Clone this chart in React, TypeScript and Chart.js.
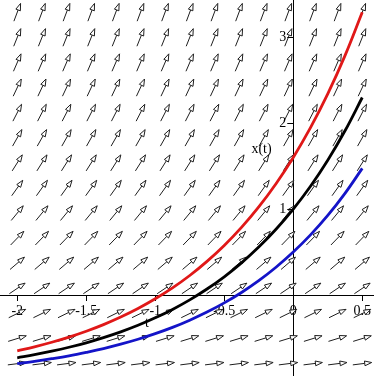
import React, { useEffect, useRef } from "react";
import { Chart, registerables } from "chart.js";

Chart.register(...registerables);

// solution curves x(t)
const tValues = [-2, -1.875, -1.75, -1.625, -1.5, -1.375, -1.25, -1.125, -1, -0.875, -0.75, -0.625, -0.5, -0.375, -0.25, -0.125, 0, 0.125, 0.25, 0.375, 0.5];
const redCurve = [-0.648, -0.601, -0.548, -0.488, -0.420, -0.343, -0.255, -0.156, -0.043, 0.084, 0.228, 0.392, 0.577, 0.787, 1.025, 1.295, 1.6, 1.946, 2.338, 2.783, 3.287];
const blackCurve = [-0.729, -0.693, -0.652, -0.606, -0.554, -0.494, -0.427, -0.351, -0.264, -0.166, -0.055, 0.071, 0.213, 0.375, 0.558, 0.765, 1.0, 1.266, 1.568, 1.910, 2.297];
const blueCurve = [-0.797, -0.770, -0.739, -0.705, -0.665, -0.621, -0.570, -0.513, -0.448, -0.375, -0.291, -0.197, -0.090, 0.031, 0.168, 0.324, 0.5, 0.700, 0.926, 1.183, 1.473];

// direction field grid
const fieldCols = [-2, -1.821, -1.643, -1.464, -1.286, -1.107, -0.929, -0.75, -0.571, -0.393, -0.214, -0.036, 0.143, 0.321, 0.5];
const fieldRows = [-0.797, -0.505, -0.214, 0.078, 0.37, 0.662, 0.953, 1.245, 1.537, 1.828, 2.12, 2.412, 2.703, 2.995, 3.287];
const rowSlopes = [0.203, 0.495, 0.786, 1.078, 1.37, 1.662, 1.953, 2.245, 2.537, 2.828, 3.12, 3.412, 3.703, 3.995, 4.287];

// tick labels
const xTickValues = [-2, -1.5, -1, -0.5, 0, 0.5];
const yTickValues = [1, 2, 3];
const xTitle = "t";
const yTitle = "x(t)";

const FONT = "'Liberation Serif', 'DejaVu Serif', serif";

const fieldPlugin = {
  id: "directionField",
  beforeDatasetsDraw(chart: any) {
    const { ctx, scales } = chart;
    const xs = scales.x;
    const ys = scales.y;
    const pxPerT = xs.getPixelForValue(1) - xs.getPixelForValue(0);
    const pxPerX = ys.getPixelForValue(0) - ys.getPixelForValue(1);
    const L = 19;
    const headLen = 7;
    const headHalf = 2.4;
    ctx.save();
    ctx.strokeStyle = "#1e1e1e";
    ctx.lineWidth = 1;
    fieldRows.forEach((xv, j) => {
      const s = rowSlopes[j];
      let dx = pxPerT;
      let dy = -s * pxPerX;
      const n = Math.hypot(dx, dy);
      dx /= n;
      dy /= n;
      fieldCols.forEach((tv) => {
        const cx = xs.getPixelForValue(tv);
        const cy = ys.getPixelForValue(xv);
        const tx = cx - (dx * L) / 2;
        const ty = cy - (dy * L) / 2;
        const hx = cx + (dx * L) / 2;
        const hy = cy + (dy * L) / 2;
        const bx = hx - dx * headLen;
        const by = hy - dy * headLen;
        ctx.beginPath();
        ctx.moveTo(tx, ty);
        ctx.lineTo(bx, by);
        ctx.stroke();
        ctx.beginPath();
        ctx.moveTo(hx, hy);
        ctx.lineTo(bx - dy * headHalf, by + dx * headHalf);
        ctx.lineTo(bx + dy * headHalf, by - dx * headHalf);
        ctx.closePath();
        ctx.fillStyle = "#ffffff";
        ctx.fill();
        ctx.stroke();
      });
    });
    ctx.restore();
  },
  afterDraw(chart: any) {
    const { ctx, scales } = chart;
    const xs = scales.x;
    const ys = scales.y;
    const ax = xs.getPixelForValue(0);
    ctx.save();
    ctx.fillStyle = "#000";
    ctx.strokeStyle = "#000";
    ctx.lineWidth = 1;
    ctx.font = `14px ${FONT}`;
    // y ticks + labels (left of axis)
    ctx.textAlign = "right";
    ctx.textBaseline = "middle";
    yTickValues.forEach((v) => {
      const py = Math.round(ys.getPixelForValue(v)) + 0.5;
      ctx.beginPath();
      ctx.moveTo(ax - 6, py);
      ctx.lineTo(ax, py);
      ctx.stroke();
      ctx.fillText(String(v), ax - 7, py);
    });
    ctx.textAlign = "center";
    ctx.fillText(yTitle, xs.getPixelForValue(-0.23), ys.getPixelForValue(1.69));
    ctx.fillText(xTitle, xs.getPixelForValue(-1.06), ys.getPixelForValue(-0.33));
    ctx.restore();
  },
};

function curve(data: number[], color: string) {
  return {
    data: tValues.map((t, i) => ({ x: t, y: data[i] })),
    borderColor: color,
    borderWidth: 2.8,
    pointRadius: 0,
    tension: 0.4,
    fill: false,
    showLine: true,
  };
}

export default function App() {
  const ref = useRef<HTMLCanvasElement>(null);
  useEffect(() => {
    if (!ref.current) return;
    const chart = new Chart(ref.current, {
      type: "scatter",
      data: {
        datasets: [
          curve(blueCurve, "#1414c8"),
          curve(blackCurve, "#000000"),
          curve(redCurve, "#e01818"),
        ],
      },
      options: {
        animation: false,
        responsive: false,
        maintainAspectRatio: false,
        devicePixelRatio: 1,
        layout: { padding: 0 },
        plugins: { legend: { display: false }, tooltip: { enabled: false } },
        scales: {
          x: {
            type: "linear",
            min: -2.125,
            max: 0.585,
            position: { y: 0 } as any,
            afterBuildTicks: (scale: any) => {
              scale.ticks = xTickValues.map((v) => ({ value: v }));
            },
            ticks: {
              color: "#000",
              font: { family: FONT, size: 14 },
              padding: 3,
              maxRotation: 0,
              autoSkip: false,
              callback: (v: any) => String(v),
            },
            grid: { display: true, drawOnChartArea: false, drawTicks: true, tickLength: 5, color: "#000" },
            border: { display: true, color: "#000", width: 1 },
          },
          y: {
            type: "linear",
            min: -0.94,
            max: 3.43,
            position: { x: 0 } as any,
            ticks: { display: false },
            grid: { display: false },
            border: { display: true, color: "#000", width: 1 },
          },
        },
      },
      plugins: [fieldPlugin],
    });
    return () => chart.destroy();
  }, []);
  return (
    <div style={{ position: "fixed", left: 0, top: 0, width: 374, height: 376, background: "#fff" }}>
      <canvas ref={ref} width={374} height={376} style={{ width: 374, height: 376, display: "block" }} />
    </div>
  );
}
